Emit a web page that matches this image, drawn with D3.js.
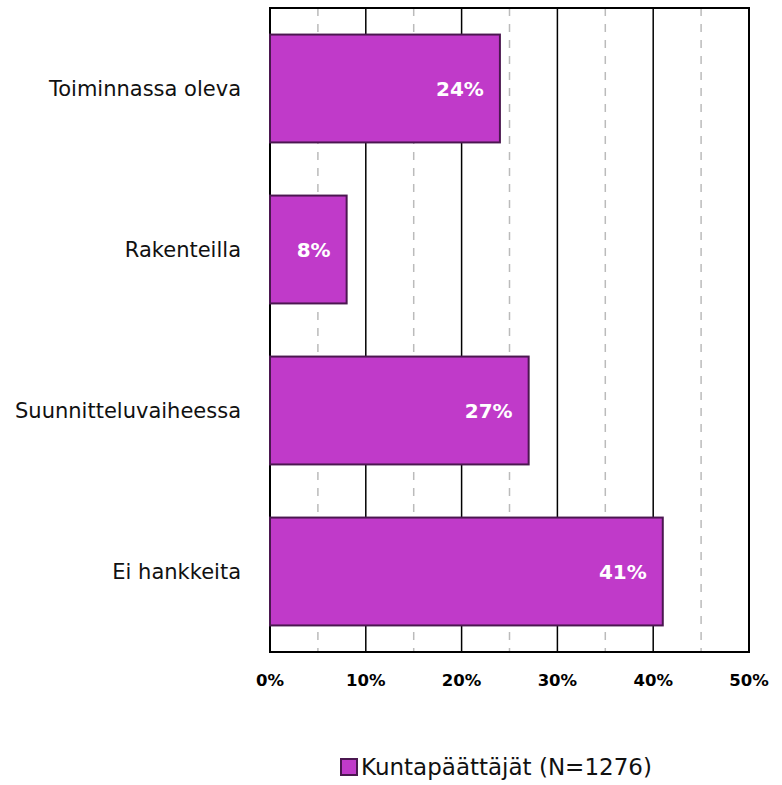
<!DOCTYPE html>
<html>
<head>
<meta charset="utf-8">
<script src="https://cdn.jsdelivr.net/npm/d3@7"></script>
<style>
  body { margin: 0; background: #fff; }
  svg { display: block; font-family: 'DejaVu Sans', sans-serif; }
</style>
</head>
<body>
<div id="chart"></div>
<script>
const categories = ['Toiminnassa oleva', 'Rakenteilla', 'Suunnitteluvaiheessa', 'Ei hankkeita'];
const values = [24, 8, 27, 41];
const majorTicks = [0, 10, 20, 30, 40, 50];
const minorTicks = [5, 15, 25, 35, 45];
const seriesName = 'Kuntapäättäjät (N=1276)';

const width = 782;
const height = 785;
const plot = { left: 270, right: 749, top: 8, bottom: 652 };

const svg = d3.select('#chart')
    .append('svg')
    .attr('width', width)
    .attr('height', height);

const x = d3.scaleLinear().domain([0, 50]).range([plot.left, plot.right]);
const y = d3.scaleBand()
    .domain(categories)
    .range([plot.top, plot.bottom])
    .paddingInner(0.33)
    .paddingOuter(0.165);

// minor dashed gridlines
svg.append('g')
    .selectAll('line')
    .data(minorTicks)
    .join('line')
    .attr('x1', (d) => x(d))
    .attr('x2', (d) => x(d))
    .attr('y1', plot.top)
    .attr('y2', plot.bottom)
    .style('stroke', '#bbb')
    .style('stroke-width', 1.5)
    .style('stroke-dasharray', '8,8');

// major gridlines
svg.append('g')
    .selectAll('line')
    .data(majorTicks)
    .join('line')
    .attr('x1', (d) => x(d))
    .attr('x2', (d) => x(d))
    .attr('y1', plot.top)
    .attr('y2', plot.bottom)
    .style('stroke', '#000')
    .style('stroke-width', 1.5);

// plot frame
svg.append('rect')
    .attr('x', plot.left)
    .attr('y', plot.top)
    .attr('width', plot.right - plot.left)
    .attr('height', plot.bottom - plot.top)
    .style('fill', 'none')
    .style('stroke', '#000')
    .style('stroke-width', 2);

// bars
svg.append('g')
    .selectAll('rect')
    .data(values)
    .join('rect')
    .attr('x', x(0))
    .attr('y', (d, i) => y(categories[i]))
    .attr('width', (d) => x(d) - x(0))
    .attr('height', y.bandwidth())
    .style('fill', '#c03ac9')
    .style('stroke', '#4b1750')
    .style('stroke-width', 2);

// value labels
svg.append('g')
    .selectAll('text')
    .data(values)
    .join('text')
    .attr('x', (d) => x(d) - 16)
    .attr('y', (d, i) => y(categories[i]) + y.bandwidth() / 2)
    .attr('dy', '0.35em')
    .attr('text-anchor', 'end')
    .style('fill', '#fff')
    .style('font-weight', 'bold')
    .style('font-size', '20px')
    .text((d) => d + '%');

// category labels
svg.append('g')
    .selectAll('text')
    .data(categories)
    .join('text')
    .attr('x', plot.left - 29)
    .attr('y', (d) => y(d) + y.bandwidth() / 2)
    .attr('dy', '0.35em')
    .attr('text-anchor', 'end')
    .style('fill', '#111')
    .style('font-size', '21px')
    .text((d) => d);

// x tick labels
svg.append('g')
    .selectAll('text')
    .data(majorTicks)
    .join('text')
    .attr('x', (d) => x(d))
    .attr('y', 680)
    .attr('dy', '0.35em')
    .attr('text-anchor', 'middle')
    .style('fill', '#000')
    .style('font-weight', 'bold')
    .style('font-size', '16.5px')
    .text((d) => d + '%');

// legend
const legend = svg.append('g').attr('transform', 'translate(341, 759)');
legend.append('rect')
    .attr('width', 16)
    .attr('height', 16)
    .style('fill', '#c03ac9')
    .style('stroke', '#4b1750')
    .style('stroke-width', 2);
legend.append('text')
    .attr('x', 20)
    .attr('y', 8)
    .attr('dy', '0.35em')
    .style('fill', '#111')
    .style('font-size', '23px')
    .text(seriesName);
</script>
</body>
</html>
